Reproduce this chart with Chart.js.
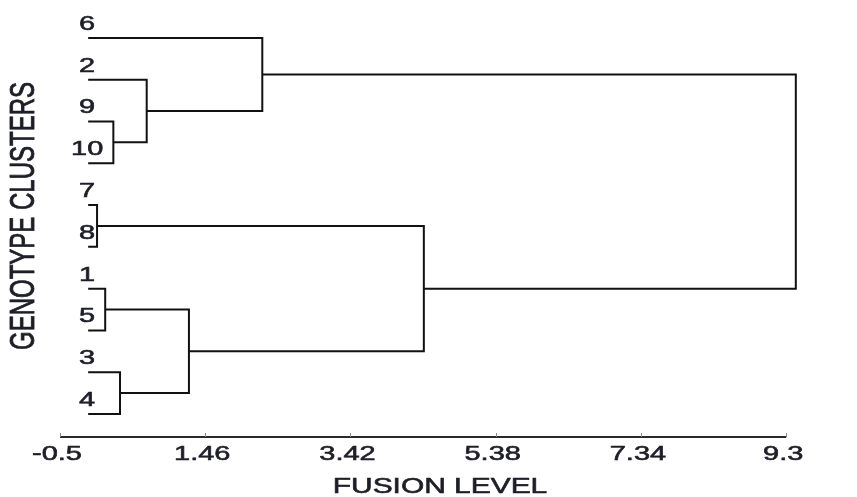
<!DOCTYPE html>
<html>
<head>
<meta charset="utf-8">
<script src="https://cdn.jsdelivr.net/npm/chart.js@4/dist/chart.umd.min.js"></script>
<style>
  html, body { margin: 0; padding: 0; background: #fff; }
  #wrap { width: 857px; height: 497px; }
</style>
</head>
<body>
<div id="wrap"><canvas id="chart"></canvas></div>
<script>
// Leaf order top to bottom
const leafLabels = ["6", "2", "9", "10", "7", "8", "1", "5", "3", "4"];
const leafStart = -0.12;

// Merges (C1..C9), children are leaf labels or earlier clusters
const mergeA = ["7", "1", "9", "3", "2", "C2", "6", "C1", "C7"];
const mergeB = ["8", "5", "10", "4", "C3", "C4", "C5", "C6", "C8"];
const mergeHeight = [0.00, 0.11, 0.22, 0.31, 0.67, 1.24, 2.23, 4.41, 9.43];

const xTicks = [-0.5, 1.46, 3.42, 5.38, 7.34, 9.3];

const FONT = "'Liberation Sans', Arial, sans-serif";
const STRETCH = 1.38;
const TEXT_COLOR = "#1e1e28";

// Dendrogram layout: leaf rows, clusters sit midway between children
const nodeY = {};
const nodeX = {};
leafLabels.forEach((l, i) => { nodeY[l] = i; nodeX[l] = leafStart; });

const datasets = [];
mergeA.forEach((a, i) => {
  const b = mergeB[i];
  const h = mergeHeight[i];
  const id = "C" + (i + 1);
  datasets.push({
    data: [
      { x: nodeX[a], y: nodeY[a] },
      { x: h, y: nodeY[a] },
      { x: h, y: nodeY[b] },
      { x: nodeX[b], y: nodeY[b] },
    ],
    showLine: true,
    borderColor: "#111",
    borderWidth: 2,
    pointRadius: 0,
    tension: 0,
    fill: false,
  });
  nodeY[id] = (nodeY[a] + nodeY[b]) / 2;
  nodeX[id] = h;
});

// text drawn slightly heavier, like the blurred original
function stretchText(ctx, text, x, y, sx, align) {
  ctx.save();
  ctx.translate(x, y);
  ctx.scale(sx, 1);
  ctx.textAlign = align;
  ctx.fillText(text, 0, 0);
  ctx.strokeText(text, 0, 0);
  ctx.restore();
}

const decorations = {
  id: "decorations",
  afterDraw(chart) {
    const { ctx, chartArea } = chart;
    const xs = chart.scales.x;
    const ys = chart.scales.y;
    const axisY = chartArea.bottom;

    ctx.save();
    // x axis line
    ctx.strokeStyle = "#2a2a2a";
    ctx.lineWidth = 2;
    ctx.beginPath();
    ctx.moveTo(xs.getPixelForValue(xTicks[0]), axisY);
    ctx.lineTo(xs.getPixelForValue(xTicks[xTicks.length - 1]), axisY);
    ctx.stroke();

    // tick marks
    ctx.strokeStyle = "#888";
    ctx.lineWidth = 1;
    xTicks.forEach(v => {
      const px = Math.round(xs.getPixelForValue(v)) + 0.5;
      ctx.beginPath();
      ctx.moveTo(px, axisY - 4);
      ctx.lineTo(px, axisY);
      ctx.stroke();
    });

    ctx.fillStyle = TEXT_COLOR;
    ctx.strokeStyle = TEXT_COLOR;
    ctx.lineWidth = 0.6;
    ctx.textBaseline = "alphabetic";
    ctx.font = "21px " + FONT;
    xTicks.forEach(v => {
      stretchText(ctx, String(v), xs.getPixelForValue(v) - 3, axisY + 23, STRETCH, "center");
    });

    // leaf labels
    leafLabels.forEach((l, i) => {
      stretchText(ctx, l, xs.getPixelForValue(leafStart) - 1, ys.getPixelForValue(i) - 8, STRETCH, "center");
    });

    // axis titles
    ctx.font = "22px " + FONT;
    stretchText(ctx, "FUSION LEVEL", 440, axisY + 56, 1.36, "center");

    ctx.font = "24px " + FONT;
    ctx.save();
    ctx.translate(34, 216);
    ctx.scale(1.45, 1);
    ctx.rotate(-Math.PI / 2);
    ctx.textAlign = "center";
    ctx.fillText("GENOTYPE CLUSTERS", 0, 0);
    ctx.strokeText("GENOTYPE CLUSTERS", 0, 0);
    ctx.restore();

    ctx.restore();
  }
};

new Chart(document.getElementById("chart"), {
  type: "scatter",
  data: { datasets },
  options: {
    responsive: true,
    maintainAspectRatio: false,
    animation: false,
    layout: { padding: { left: 60, right: 56, top: 17, bottom: 60 } },
    plugins: { legend: { display: false }, tooltip: { enabled: false } },
    scales: {
      x: { type: "linear", min: -0.5, max: 9.5, display: false },
      y: { type: "linear", min: -0.5, max: 9.55, reverse: true, display: false },
    },
  },
  plugins: [decorations],
});
</script>
</body>
</html>
